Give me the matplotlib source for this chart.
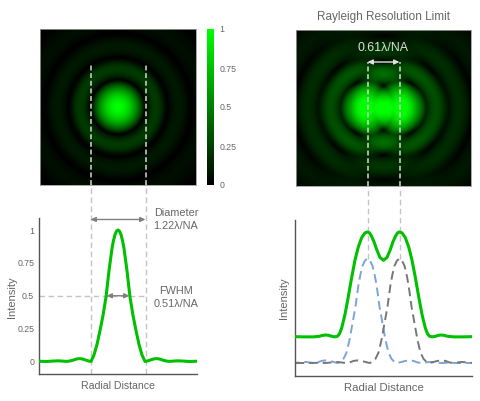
import numpy as np
import matplotlib
matplotlib.use("Agg")
import matplotlib.pyplot as plt
from matplotlib.colors import LinearSegmentedColormap

plt.rcParams['font.family'] = ['Liberation Sans', 'DejaVu Sans']

# --- values (offsets are in image pixels from the spot centre) ---
left_r = [0, 1.5, 3, 4.5, 6, 9, 12, 15, 18, 21, 24, 27, 30, 33, 36, 39, 42, 45, 48, 51, 54, 57, 60, 63, 66, 69, 72, 75, 79]
left_i = [1, .991, .965, .92, .86, .69, .49, .35, .235, .13, .05, 0, .005, .013, .02, .022, .018, .01, .004, .001, .002, .004, .005, .004, .003, .001, 0, .001, .002]

glow_r = [0, 3, 6, 9, 12, 15, 18, 21, 24, 26, 27.5, 30, 33, 36, 38, 41, 44, 47, 50, 53, 56, 60, 64, 68, 72, 75, 78, 82, 88, 95, 102, 105, 125]
glow_v = [1, 1, .95, .88, .8, .68, .55, .4, .22, .08, 0, .1, .17, .22, .23, .21, .15, .06, 0, .05, .08, .1, .09, .06, .015, 0, .03, .05, .06, .04, .01, 0, .02]

single_r = [0, 2.5, 5, 7, 9, 12, 15, 18, 21, 24, 27, 30, 34, 38, 42, 46, 50, 54, 58, 62, 68, 74, 80, 90, 104]
single_v = [1, .98, .93, .85, .75, .54, .38, .22, .10, .04, .01, 0, .01, .02, .025, .02, .005, 0, .005, .01, .005, 0, .002, 0, 0]

green_half_x = [0, 3.5, 6.8, 9.5, 11.8, 14, 15.8, 18.5, 21.8, 25.2, 28.5, 31.8, 35.2, 38.5, 41.8, 44, 46, 49, 52, 55, 58, 61, 64, 70, 80, 88]
green_half_v = [.983, 1.01, 1.085, 1.16, 1.21, 1.245, 1.254, 1.245, 1.20, 1.11, .985, .82, .634, .465, .335, .28, .256, .25, .256, .265, .268, .264, .256, .25, .25, .252]

cbar_ticks = [0, .25, .5, .75, 1]
cbar_labels = ['0', '0.25', '0.5', '0.75', '1']
left_ticks = [0, .25, .5, .75, 1]
left_labels = ['0', '0.25', '0.5', '0.75', '1']
airy_edge = 27.5
half_width = 11.5
peak_sep = 16

W, H = 480, 401
fig = plt.figure(figsize=(W / 100, H / 100), dpi=100, facecolor='white')

def axpx(x0, y0, x1, y1, **kw):
    return fig.add_axes([x0 / W, 1 - y1 / H, (x1 - x0) / W, (y1 - y0) / H], **kw)

cmap = LinearSegmentedColormap.from_list('g', ['#000000', '#00ff00'])
TXT = '#666666'
GUIDE = '#c4c4c4'
ARROW = '#808080'
GREEN = '#00c000'
AS = '<|-|>,head_width=.14,head_length=.3'

def glow(x, y, cx):
    return np.interp(np.hypot(x - cx, y), glow_r, glow_v)

# left image
a = axpx(40, 29, 196, 185)
xs, ys = np.meshgrid(np.arange(-78, 78.5, .5), np.arange(-78, 78.5, .5))
im = a.imshow(glow(xs, ys, 0), cmap=cmap, vmin=0, vmax=1, extent=(-78, 78, -78, 78), interpolation='bilinear')
a.set_xticks([]); a.set_yticks([])
for s in a.spines.values():
    s.set_color('#999999'); s.set_linewidth(.6)
for x in (-airy_edge, airy_edge):
    a.plot([x, x], [-78, 42], color='#d8d8d8', lw=1.1, ls=(0, (3.2, 1.8)))
a.set_xlim(-78, 78); a.set_ylim(-78, 78)

# colour bar
c = axpx(207, 29, 214, 185)
cb = fig.colorbar(im, cax=c, ticks=cbar_ticks)
cb.ax.set_yticklabels(cbar_labels, color=TXT, fontsize=6.3)
cb.ax.tick_params(length=0, pad=4)
cb.outline.set_visible(False)

# left profile
b = axpx(39, 218, 197, 374)
x = np.r_[-np.array(left_r[:0:-1]), left_r]
y = np.r_[left_i[:0:-1], left_i]
b.set_xlim(-79, 79)
b.set_ylim(-12.5 / 131.5, 143.5 / 131.5)
b.plot(x, y, color=GREEN, lw=2.2, solid_joinstyle='round', zorder=3)
for xv in (-airy_edge, airy_edge):
    b.plot([xv, xv], [b.get_ylim()[0], 1.35], color=GUIDE, lw=1.0, ls=(0, (4, 2.5)), clip_on=False, zorder=1)
b.plot([-79, airy_edge], [.5, .5], color=GUIDE, lw=1.0, ls=(0, (4, 2.5)), zorder=1)
b.annotate('', xy=(-airy_edge, 1.08), xytext=(airy_edge, 1.08), annotation_clip=False,
           arrowprops=dict(arrowstyle=AS, color=ARROW, lw=1.0, shrinkA=0, shrinkB=0))
b.annotate('', xy=(-half_width, .5), xytext=(half_width, .5),
           arrowprops=dict(arrowstyle=AS, color=ARROW, lw=1.0, shrinkA=0, shrinkB=0))
b.set_xticks([]); b.set_yticks(left_ticks, left_labels, color=TXT, fontsize=6.3)
b.tick_params(length=0, pad=3.5)
for s in ('top', 'right'):
    b.spines[s].set_visible(False)
for s in ('left', 'bottom'):
    b.spines[s].set_color('#555555'); b.spines[s].set_linewidth(1.0)
b.set_xlabel('Radial Distance', color=TXT, fontsize=7.6, labelpad=5)
b.set_ylabel('Intensity', color=TXT, fontsize=8)
b.yaxis.set_label_coords(-22 / 158, .49)
fig.text(176 / W, 1 - 219.5 / H, 'Diameter\n1.22λ/NA', ha='center', va='center', color=TXT, fontsize=7.8, linespacing=1.3)
fig.text(176 / W, 1 - 297.5 / H, 'FWHM\n0.51λ/NA', ha='center', va='center', color=TXT, fontsize=7.8, linespacing=1.3)

# right image
d = axpx(296, 30, 471, 186)
xs, ys = np.meshgrid(np.arange(-87.5, 87.6, .5), np.arange(-78, 78.5, .5))
blend = (glow(xs, ys, -peak_sep) ** 1.4 + glow(xs, ys, peak_sep) ** 1.4) ** (1 / 1.4)
blend = np.clip(blend, 0, 1) ** .85
d.imshow(blend, cmap=cmap, vmin=0, vmax=1,
         extent=(-87.5, 87.5, -78, 78), interpolation='bilinear', aspect='auto')
d.set_xticks([]); d.set_yticks([])
for s in d.spines.values():
    s.set_color('#999999'); s.set_linewidth(.6)
for xv in (-peak_sep, peak_sep):
    d.plot([xv, xv], [-78, 46], color='#d8d8d8', lw=1.1, ls=(0, (3.2, 1.8)))
d.annotate('', xy=(-peak_sep, 46), xytext=(peak_sep, 46),
           arrowprops=dict(arrowstyle=AS, color='#e0e0e0', lw=1.0, shrinkA=0, shrinkB=0))
d.text(0, 60, '0.61λ/NA', color='#dddddd', fontsize=8.9, ha='center', va='center')
d.set_xlim(-87.5, 87.5); d.set_ylim(-78, 78)
fig.text(383.5 / W, 1 - 17 / H, 'Rayleigh Resolution Limit', ha='center', va='center', color=TXT, fontsize=8.5)

# right profile
e = axpx(295, 220, 472, 376)
e.set_xlim(-88.5, 88.5)
e.set_ylim(-13 / 104.5, 143 / 104.5)
gx = np.r_[-np.array(green_half_x[:0:-1]), green_half_x]
gy = np.r_[green_half_v[:0:-1], green_half_v]
sx = np.r_[-np.array(single_r[:0:-1]), single_r]
sy = np.r_[single_v[:0:-1], single_v]
top = e.get_ylim()[1]
for xv in (-peak_sep, peak_sep):
    e.plot([xv, xv], [1.0, top + .3], color=GUIDE, lw=1.0, ls=(0, (4, 2.5)), clip_on=False, zorder=1)
e.plot(sx - peak_sep, sy, color='#7aa5d6', lw=1.4, ls=(0, (4.5, 2.5)), zorder=2)
e.plot(sx + peak_sep, sy, color='#777777', lw=1.4, ls=(0, (4.5, 2.5)), zorder=2)
e.plot(gx, gy, color=GREEN, lw=2.2, solid_joinstyle='round', zorder=3)
e.set_xticks([]); e.set_yticks([])
for s in ('top', 'right'):
    e.spines[s].set_visible(False)
for s in ('left', 'bottom'):
    e.spines[s].set_color('#555555'); e.spines[s].set_linewidth(1.0)
e.set_xlabel('Radial Distance', color=TXT, fontsize=8.2, labelpad=5)
e.set_ylabel('Intensity', color=TXT, fontsize=8)
e.yaxis.set_label_coords(-6 / 177, .5)

fig.savefig('out.png', dpi=100)
